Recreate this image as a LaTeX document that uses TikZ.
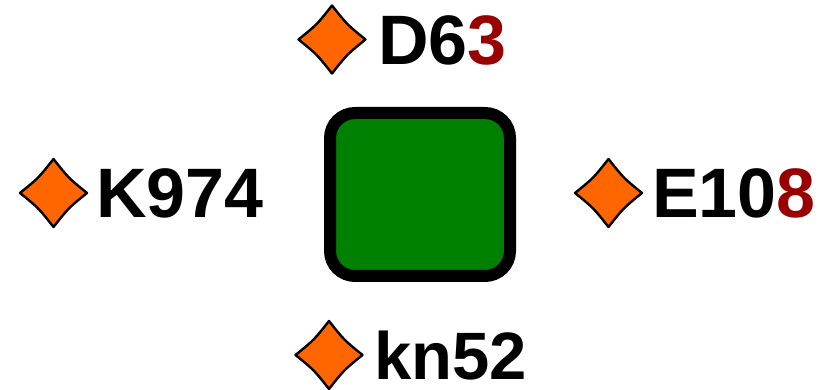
\documentclass[tikz,border=0pt]{standalone}
\usepackage{fontspec}
\setmainfont{Liberation Sans}
\definecolor{gemorange}{RGB}{255,102,0}
\definecolor{boxgreen}{RGB}{0,128,0}
\definecolor{darkred}{RGB}{153,0,0}
\tikzset{
  gemline/.style={draw=black, line width=2.4pt, fill=gemorange, line join=round},
  gem/.pic={\path[gemline] (33.5pt,0pt) .. controls (15pt,15pt) .. (0pt,34pt)
      .. controls (-15pt,15pt) .. (-33.5pt,0pt)
      .. controls (-15pt,-15pt) .. (0pt,-34pt)
      .. controls (15pt,-15pt) .. cycle;},
  label/.style={anchor=base west, inner sep=0pt, font=\fontsize{70}{70}\selectfont\bfseries},
  centerbox/.style={draw=black, line width=12pt, fill=boxgreen, rounded corners=25pt,
      minimum width=180pt, minimum height=163pt, inner sep=0pt}
}
\begin{document}
\begin{tikzpicture}[x=1pt,y=1pt]
\useasboundingbox (0,0) rectangle (834,390);
\node[centerbox] (box) at (420,195.5) {};
\pic (gtop) at (332,350.5) {gem};
\pic (gleft) at (53.5,197) {gem};
\pic (gright) at (608.5,197) {gem};
\pic (gbottom) at (329,35) {gem};
\node[label] (ttop) at (378,325) {D6\textcolor{darkred}{3}};
\node[label] (tleft) at (96,172) {K974};
\node[label] (tright) at (652,172) {E10\textcolor{darkred}{8}};
\node[label, font=\fontsize{67}{67}\selectfont\bfseries] (tbottom) at (374,10) {kn52};
\end{tikzpicture}
\end{document}
